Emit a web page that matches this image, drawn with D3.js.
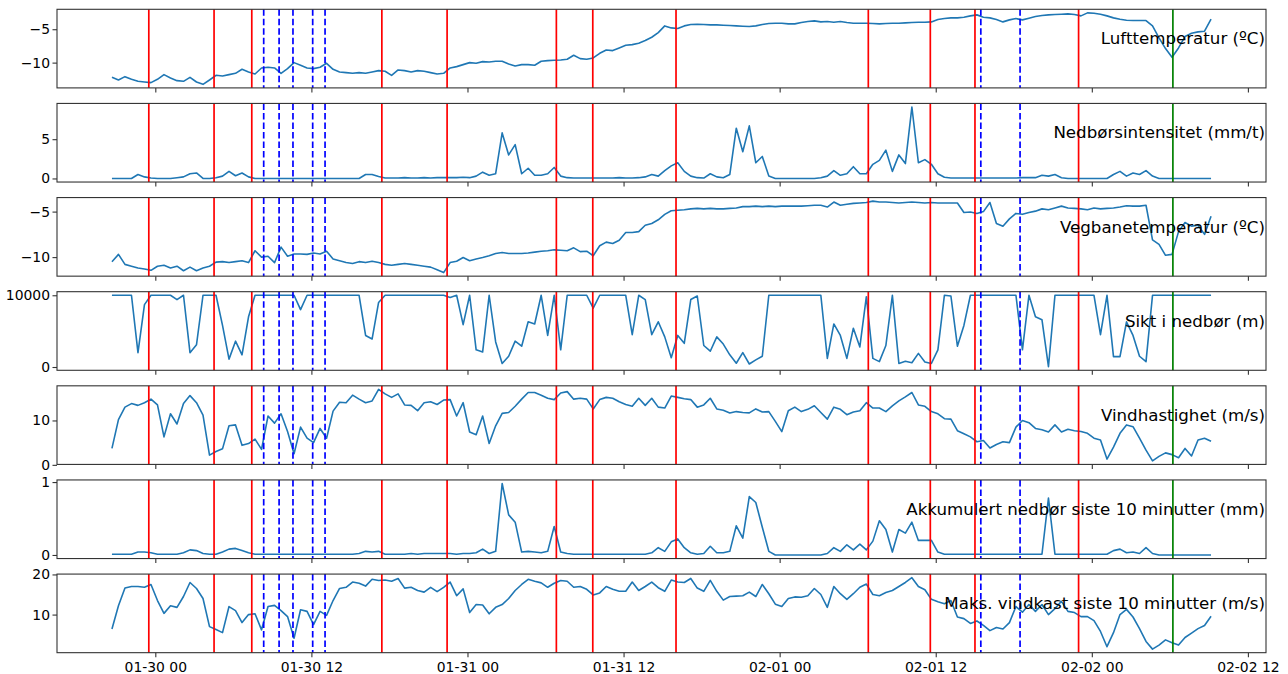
<!DOCTYPE html>
<html>
<head>
<meta charset="utf-8">
<script src="https://cdn.jsdelivr.net/npm/d3@7"></script>
<style>
  body { margin: 0; background: #fff; }
  svg { display: block; }
  text { font-family: "DejaVu Sans", sans-serif; }
</style>
</head>
<body>
<div id="viz"></div>
<script>
// measurements every 30 minutes, starting 01-29 20:40
const startTime = "2019-01-29T20:40:00Z";
const stepMinutes = 30;

const luftTemp = [
  -12.2, -12.6, -12.1, -12.5, -12.8, -12.9, -13.0, -12.5, -11.8, -12.3,
  -12.7, -12.8, -12.2, -12.9, -13.25, -12.6, -11.9, -12.0, -11.8, -11.6,
  -11.0, -11.4, -11.7, -10.8, -10.7, -10.8, -11.6, -10.9, -10.0, -10.4,
  -10.8, -10.9, -10.7, -10.1, -11.0, -11.4, -11.5, -11.6, -11.5, -11.6,
  -11.4, -11.2, -11.3, -11.9, -11.1, -11.2, -11.4, -11.2, -11.3, -11.5,
  -11.7, -11.6, -10.8, -10.6, -10.3, -10.0, -10.1, -9.85, -9.9, -9.8,
  -9.8, -10.2, -10.5, -10.3, -10.3, -10.4, -9.8, -9.7, -9.65, -9.6,
  -9.5, -8.9, -9.4, -9.5, -9.3, -8.6, -8.1, -8.2, -7.8, -7.4,
  -7.3, -7.1, -6.7, -6.2, -5.5, -4.5, -4.8, -4.9, -4.5, -4.3,
  -4.25, -4.3, -4.35, -4.35, -4.4, -4.45, -4.5, -4.55, -4.6, -4.5,
  -4.3, -4.15, -4.1, -4.1, -4.2, -4.2, -4.0, -3.85, -3.75, -3.9,
  -3.85, -3.95, -3.85, -4.0, -4.1, -4.1, -4.1, -4.15, -4.2, -4.15,
  -4.1, -4.1, -4.05, -4.0, -3.95, -3.95, -3.9, -3.55, -3.4, -3.3,
  -3.3, -3.2, -3.0, -2.85, -3.2, -3.3, -3.55, -3.9, -3.6, -3.4,
  -3.6, -3.35, -3.1, -2.95, -2.85, -2.8, -2.75, -2.7, -2.8, -3.0,
  -2.55, -2.6, -2.75, -3.0, -3.3, -3.5, -3.65, -3.7, -3.7, -3.7,
  -4.5, -6.3, -7.9, -9.2, -7.8, -6.1, -5.6, -5.4, -5.3, -3.5
];

const nedborIntensitet = [
  0, 0, 0, 0, 0.5, 0.2, 0.05, 0, 0, 0,
  0.1, 0.2, 0.6, 0.7, 0, 0, 0.1, 0.3, 0.9, 0.35,
  0.7, 0.2, 0, 0, 0, 0, 0, 0, 0, 0,
  0, 0, 0, 0, 0, 0, 0, 0, 0, 0.5,
  0.5, 0.25, 0.05, 0.05, 0.05, 0.1, 0.05, 0.05, 0.1, 0.05,
  0.1, 0.1, 0.1, 0.1, 0.15, 0.1, 0.3, 0.8, 0.4, 0.6,
  5.8, 3.0, 4.3, 0.6, 1.3, 0.4, 0.4, 0.6, 1.4, 0.3,
  0.1, 0.05, 0.05, 0.05, 0.05, 0.05, 0.05, 0.05, 0.1, 0.05,
  0.05, 0.1, 0.2, 0.5, 0.3, 1.0, 1.6, 2.0, 0.9, 0.3,
  0.1, 0.05, 0.6, 0.2, 0.1, 0.5, 6.4, 3.4, 6.7, 2.0,
  2.8, 0.3, 0, 0, 0, 0, 0, 0, 0, 0.1,
  0.3, 1.0, 0.4, 0.6, 1.5, 0.6, 0.6, 1.8, 2.3, 3.6,
  0.9, 3.0, 1.9, 9.1, 2.0, 2.4, 1.8, 0.6, 0.15, 0.05,
  0.05, 0.05, 0.05, 0.05, 0.05, 0.05, 0.05, 0.05, 0.05, 0.05,
  0.1, 0.1, 0.1, 0.4, 0.3, 0.5, 0.1, 0, 0, 0,
  0, 0, 0, 0, 0.5, 0.9, 0.3, 0.7, 0.5, 1.0,
  0.3, 0, 0, 0, 0, 0, 0, 0, 0, 0
];

const vegbaneTemp = [
  -10.5, -9.7, -10.8, -11.0, -11.2, -11.3, -11.45, -11.0, -10.9, -11.2,
  -11.0, -11.5, -11.1, -11.5, -11.2, -11.0, -10.55, -10.5, -10.6, -10.5,
  -10.4, -10.6, -9.3, -10.0, -9.9, -10.6, -8.9, -9.9, -9.65, -9.65,
  -9.7, -9.55, -9.65, -9.35, -10.2, -10.4, -10.6, -10.7, -10.5, -10.6,
  -10.45, -10.6, -10.8, -10.9, -10.8, -10.7, -10.8, -10.9, -11.0, -11.1,
  -11.4, -11.7, -10.6, -10.45, -10.05, -10.4, -10.2, -10.05, -9.85, -9.6,
  -9.5, -9.6, -9.6, -9.6, -9.55, -9.45, -9.35, -9.3, -9.2, -9.25,
  -9.3, -8.98, -9.4, -9.35, -9.85, -8.75, -8.35, -8.5, -8.15, -7.3,
  -7.3, -7.2, -6.5, -6.3, -5.9, -5.3, -4.9, -4.85, -4.8, -4.7,
  -4.65, -4.7, -4.65, -4.7, -4.7, -4.65, -4.6, -4.45, -4.45, -4.4,
  -4.45, -4.4, -4.45, -4.4, -4.4, -4.4, -4.4, -4.35, -4.3, -4.3,
  -4.5, -3.95, -4.3, -4.2, -4.1, -4.05, -4.0, -3.85, -3.95, -3.95,
  -4.0, -4.05, -4.0, -3.95, -4.0, -4.05, -4.0, -4.05, -4.05, -4.05,
  -4.05, -5.1, -5.05, -5.2, -5.0, -4.0, -6.3, -6.6, -5.8, -5.2,
  -5.3, -5.1, -4.95, -4.7, -4.8, -4.6, -4.4, -4.6, -4.65, -4.7,
  -4.8, -4.6, -4.7, -4.65, -4.6, -4.5, -4.35, -4.4, -4.4, -4.3,
  -8.1, -8.6, -9.8, -9.7, -7.2, -6.2, -6.6, -6.5, -7.5, -5.5
];

const siktNedbor = [
  10000, 10000, 10000, 10000, 2000, 8700, 10000, 10000, 10000, 10000,
  9400, 10000, 2000, 3100, 10000, 10000, 10000, 5800, 1100, 3600,
  1700, 7000, 10000, 10000, 10000, 10000, 10000, 10000, 10000, 8000,
  10000, 10000, 10000, 10000, 10000, 10000, 10000, 10000, 10000, 4400,
  3900, 9000, 10000, 10000, 10000, 10000, 10000, 10000, 10000, 10000,
  10000, 10000, 9700, 10000, 5900, 10000, 2400, 2100, 10000, 3500,
  500, 1500, 3600, 2900, 6300, 6000, 10000, 4400, 10000, 2400,
  10000, 10000, 10000, 10000, 8200, 10000, 10000, 10000, 10000, 10000,
  4500, 10000, 9400, 4500, 6300, 4200, 1300, 4400, 3300, 9400,
  9900, 3000, 2200, 4200, 3200, 1700, 520, 2000, 420, 1000,
  1500, 10000, 10000, 10000, 10000, 10000, 10000, 10000, 10000, 10000,
  1200, 6000, 4400, 1200, 5400, 2800, 9800, 1200, 750, 3000,
  10000, 500, 800, 600, 1900, 700, 500, 2400, 10000, 9900,
  2900, 5800, 10000, 10000, 10000, 10000, 10000, 10000, 10000, 10000,
  2400, 10000, 7000, 6600, 40, 10000, 10000, 10000, 10000, 10000,
  10000, 10000, 4500, 10000, 1450, 1450, 6300, 4400, 1500, 750,
  10000, 10000, 10000, 10000, 10000, 10000, 10000, 10000, 10000, 10000
];

const vindhastighet = [
  3.7, 10.2, 13.0, 13.8, 13.4, 14.0, 14.8, 13.5, 6.3, 11.5,
  9.2, 13.8, 15.6, 14.0, 11.2, 2.2, 3.0, 3.6, 8.8, 9.0,
  4.4, 4.8, 5.8, 3.5, 11.0, 9.4, 11.5, 7.5, 2.5, 8.5,
  6.0, 5.0, 8.2, 6.0, 12.1, 14.1, 14.0, 15.7, 14.8, 14.0,
  14.4, 17.0, 16.0, 15.2, 16.0, 13.5, 13.4, 12.2, 14.0, 14.2,
  13.6, 14.6, 14.7, 11.0, 14.0, 7.4, 6.8, 11.0, 4.8, 8.8,
  11.6, 11.8, 13.2, 14.8, 16.3, 16.3, 15.7, 15.0, 14.7, 16.2,
  16.5, 14.8, 15.0, 14.8, 12.6, 14.7, 15.2, 15.0, 14.2, 13.6,
  13.2, 15.0, 13.4, 15.0, 13.0, 12.8, 15.5, 15.2, 14.9, 14.7,
  13.0, 13.5, 15.0, 12.6, 12.3, 11.7, 12.0, 11.8, 11.7, 12.6,
  11.9, 12.0, 9.8, 7.5, 12.2, 13.0, 12.0, 12.5, 13.3, 11.8,
  10.3, 13.0, 12.5, 11.3, 11.9, 12.2, 14.0, 12.8, 12.8, 12.0,
  13.3, 14.4, 15.3, 16.3, 13.5, 13.2, 12.0, 11.5, 10.4, 10.3,
  7.7, 7.0, 6.3, 5.2, 5.5, 3.8, 4.6, 5.2, 5.0, 8.5,
  10.0, 9.5, 8.2, 7.9, 7.4, 9.0, 7.4, 8.0, 7.7, 7.5,
  7.1, 6.0, 5.6, 1.3, 4.0, 7.1, 9.0, 8.6, 6.0, 3.3,
  0.9, 1.9, 2.7, 2.3, 1.6, 3.7, 2.0, 5.6, 6.0, 5.3
];

const akkumulertNedbor = [
  0.01, 0.01, 0.01, 0.01, 0.04, 0.04, 0.03, 0.01, 0.01, 0.01,
  0.01, 0.03, 0.07, 0.06, 0.02, 0.01, 0.01, 0.04, 0.08, 0.09,
  0.06, 0.03, 0.01, 0.01, 0.01, 0.01, 0.01, 0.01, 0.01, 0.01,
  0.01, 0.01, 0.01, 0.01, 0.01, 0.01, 0.01, 0.01, 0.02, 0.05,
  0.04, 0.05, 0.01, 0.01, 0.01, 0.01, 0.02, 0.01, 0.02, 0.02,
  0.02, 0.02, 0.02, 0.01, 0.02, 0.02, 0.03, 0.08, 0.02, 0.05,
  0.98, 0.55, 0.45, 0.04, 0.05, 0.04, 0.03, 0.05, 0.39, 0.04,
  0.02, 0.01, 0.01, 0.01, 0.01, 0.01, 0.01, 0.01, 0.01, 0.01,
  0.01, 0.01, 0.01, 0.03, 0.1, 0.05, 0.18, 0.22, 0.1, 0.03,
  0.01, 0.02, 0.12, 0.03, 0.03, 0.05, 0.4, 0.23, 0.8, 0.72,
  0.38, 0.05, 0, 0, 0, 0, 0, 0, 0, 0,
  0.02, 0.1, 0.05, 0.14, 0.07, 0.15, 0.07, 0.19, 0.47, 0.35,
  0.04, 0.35, 0.3, 0.45, 0.2, 0.2, 0.2, 0.04, 0.01, 0.01,
  0.01, 0.01, 0.01, 0.01, 0.01, 0.01, 0.01, 0.01, 0.01, 0.01,
  0.01, 0.01, 0.01, 0.01, 0.78, 0.01, 0.01, 0.01, 0.01, 0.01,
  0.01, 0.01, 0.01, 0.01, 0.06, 0.08, 0.03, 0.04, 0.02, 0.1,
  0.02, 0, 0, 0, 0, 0, 0, 0, 0, 0
];

const maksVindkast = [
  6.4, 12.2, 16.6, 17.0, 17.0, 16.8, 17.5, 13.5, 10.3, 12.2,
  11.8, 14.5, 18.0, 16.5, 14.0, 7.0, 6.3, 5.5, 12.0, 11.0,
  8.0, 10.0, 10.2, 6.2, 12.0, 12.3, 11.0, 9.5, 4.1, 11.2,
  10.8, 7.5, 10.8, 9.8, 13.5, 16.5, 16.8, 18.1, 17.8, 17.1,
  18.8, 18.5, 18.6, 18.3, 19.0, 16.6, 16.8, 16.0, 15.6, 16.8,
  15.7, 16.8, 18.1, 14.7, 16.4, 10.5, 12.5, 12.4, 10.2, 11.8,
  12.5, 14.0, 16.0, 17.5, 18.8, 18.3, 17.9, 16.8, 17.8, 18.5,
  18.3, 16.8, 17.0, 16.3, 14.9, 15.4, 17.0, 16.3, 15.8, 15.8,
  18.1, 16.0, 17.0, 18.1, 16.7, 15.8, 18.6, 18.1, 18.0, 19.0,
  16.6, 15.8, 18.5, 15.8, 13.6, 14.5, 14.6, 14.7, 15.6, 14.5,
  17.5, 15.2, 12.6, 12.0, 14.0, 14.4, 14.3, 14.7, 16.5, 15.0,
  11.8, 17.0, 15.2, 13.8, 15.2, 16.8, 17.6, 15.0, 14.7, 15.5,
  16.0, 17.0, 18.0, 19.2, 17.0, 16.2, 13.8, 13.2, 12.7, 13.5,
  9.4, 9.0, 7.8, 8.4, 7.3, 6.0, 6.8, 6.4, 8.0, 12.0,
  10.6, 12.5, 10.8, 12.5, 10.0, 11.5, 13.3, 10.8, 10.5, 9.5,
  9.5, 8.5, 5.8, 2.0, 5.5, 10.0, 11.3, 9.4, 6.5, 3.3,
  1.4, 2.4, 3.7, 3.0, 2.4, 4.3, 5.4, 6.5, 7.3, 9.6
];

const panelLabels = [
  "Lufttemperatur (ºC)",
  "Nedbørsintensitet (mm/t)",
  "Vegbanetemperatur (ºC)",
  "Sikt i nedbør (m)",
  "Vindhastighet (m/s)",
  "Akkumulert nedbør siste 10 minutter (mm)",
  "Maks. vindkast siste 10 minutter (m/s)"
];
const panelTicks = [[-10, -5], [0, 5], [-10, -5], [0, 10000], [0, 10], [0, 1], [10, 20]];

// event markers
const redLines = [
  "2019-01-29T23:30Z", "2019-01-30T04:31Z", "2019-01-30T07:25Z", "2019-01-30T17:25Z",
  "2019-01-30T22:26Z", "2019-01-31T06:50Z", "2019-01-31T09:38Z", "2019-01-31T16:02Z",
  "2019-02-01T06:49Z", "2019-02-01T11:35Z", "2019-02-01T15:01Z", "2019-02-01T22:59Z"
];
const blueLines = [
  "2019-01-30T08:20Z", "2019-01-30T09:31Z", "2019-01-30T10:35Z", "2019-01-30T12:06Z",
  "2019-01-30T13:03Z", "2019-02-01T15:28Z", "2019-02-01T18:29Z"
];
const greenLines = ["2019-02-02T06:14Z"];

const allSeries = [luftTemp, nedborIntensitet, vegbaneTemp, siktNedbor,
                   vindhastighet, akkumulertNedbor, maksVindkast];

// layout
const W = 1288, H = 674;
const left = 57, right = 1266;
const top0 = 9.3, panelH = 78.6, gap = 15.53;

const t0 = new Date(startTime);
const times = luftTemp.map((d, i) => d3.utcMinute.offset(t0, i * stepMinutes));

// matplotlib style 5% margin
function padded(ext) {
  const lo = +ext[0], hi = +ext[1];
  const p = (hi - lo) * 0.05;
  return [lo - p, hi + p];
}

const xPad = padded(d3.extent(times));
const x = d3.scaleUtc()
  .domain([new Date(xPad[0]), new Date(xPad[1])])
  .range([left, right]);

const svg = d3.select("#viz")
  .append("svg")
    .attr("width", W)
    .attr("height", H);

allSeries.forEach((values, k) => {
  const top = top0 + k * (panelH + gap);
  const g = svg.append("g").attr("transform", `translate(0,${top})`);

  const y = d3.scaleLinear()
    .domain(padded(d3.extent(values)))
    .range([panelH, 0]);

  // data line
  g.append("path")
    .datum(values)
      .attr("fill", "none")
      .attr("stroke", "#1f77b4")
      .attr("stroke-width", 1.6)
      .attr("stroke-linejoin", "round")
      .attr("d", d3.line()
        .x((d, i) => x(times[i]))
        .y(d => y(d)));

  // vertical markers
  const vline = (list, color, dash) => {
    g.selectAll(null)
      .data(list)
      .join("line")
        .attr("x1", d => x(new Date(d)))
        .attr("x2", d => x(new Date(d)))
        .attr("y1", 0)
        .attr("y2", panelH)
        .attr("stroke", color)
        .attr("stroke-width", 1.7)
        .attr("stroke-dasharray", dash);
  };
  vline(redLines, "#ff0000", null);
  vline(blueLines, "#0000ff", "6.5,3");
  vline(greenLines, "#008000", null);

  // y axis
  const yAxis = g.append("g")
    .attr("transform", `translate(${left},0)`)
    .call(d3.axisLeft(y)
      .tickValues(panelTicks[k])
      .tickSize(4.5)
      .tickPadding(2.5)
      .tickFormat(d3.format("d")));
  yAxis.select(".domain").remove();

  // x axis (labels only on the last panel)
  const xAxis = g.append("g")
    .attr("transform", `translate(0,${panelH})`)
    .call(d3.axisBottom(x)
      .ticks(d3.utcHour.every(12))
      .tickSize(4.5)
      .tickPadding(4.8)
      .tickFormat(k === allSeries.length - 1 ? d3.utcFormat("%m-%d %H") : ""));
  xAxis.select(".domain").remove();

  [yAxis, xAxis].forEach(a => {
    a.attr("font-family", "DejaVu Sans, sans-serif")
     .attr("font-size", 13.9)
     .attr("color", "#000");
    a.selectAll("line").attr("stroke-width", 1.1).attr("stroke", "#333");
  });

  // frame
  g.append("rect")
    .attr("x", left)
    .attr("y", 0)
    .attr("width", right - left)
    .attr("height", panelH)
    .attr("fill", "none")
    .attr("stroke", "#333")
    .attr("stroke-width", 1.1);

  // panel label
  g.append("text")
    .attr("x", right - 1)
    .attr("y", panelH * 0.445)
    .attr("text-anchor", "end")
    .attr("font-size", 16.67)
    .attr("fill", "#000")
    .text(panelLabels[k]);
});
</script>
</body>
</html>
